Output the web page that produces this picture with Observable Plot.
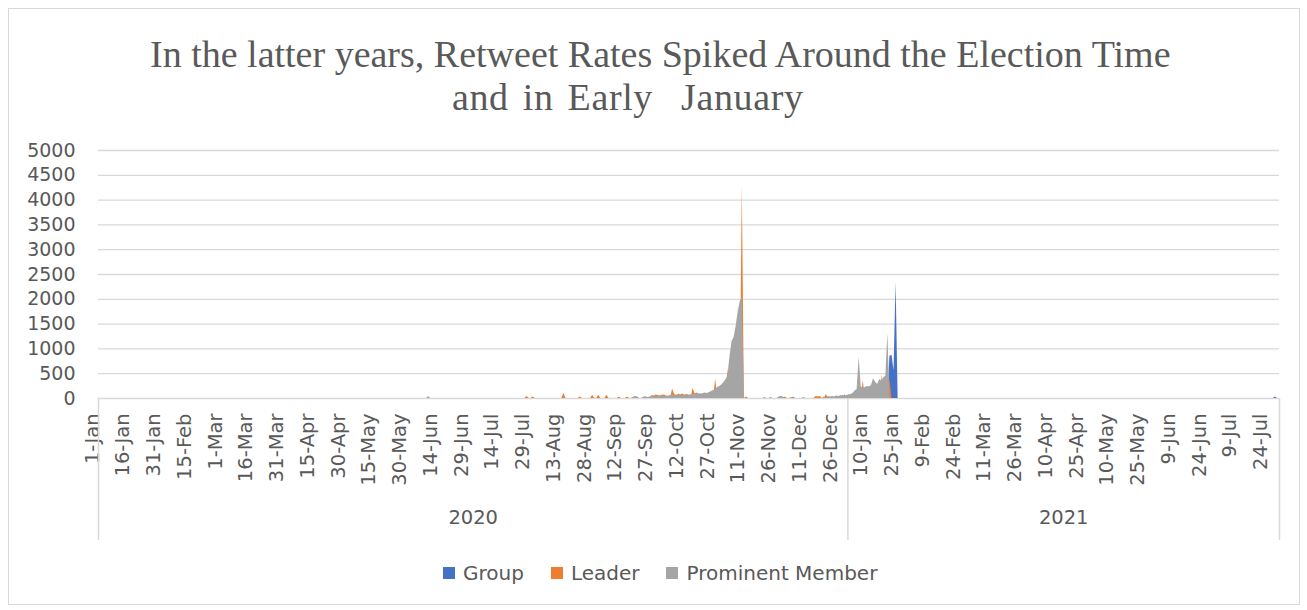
<!DOCTYPE html>
<html><head><meta charset="utf-8">
<script src="https://cdn.jsdelivr.net/npm/d3@7"></script>
<script src="https://cdn.jsdelivr.net/npm/@observablehq/plot@0.6"></script>
<style>
body{margin:0;background:#fff;}
#wrap{position:relative;width:1307px;height:610px;overflow:hidden;font-family:"DejaVu Sans";color:#595959;background:#fff}
#frame{position:absolute;left:8px;top:8px;width:1292px;height:597px;border:1px solid #d9d9d9;box-sizing:border-box}
.tl{position:absolute;white-space:pre;font-family:"Liberation Serif";font-size:38px;line-height:43px;color:#595959}
#t1{left:150px;top:33px;width:1015px;text-align:center}
#t2{left:452px;top:76px;word-spacing:4px;letter-spacing:0.6px}
#main{position:absolute;left:0;top:140px}
#years{position:absolute;left:0;top:398px}
#legend{position:absolute;top:561px;left:443px;display:flex;align-items:center;font-size:20px;line-height:24px;color:#595959;white-space:nowrap}
.item{display:flex;align-items:center;margin-right:27px}
.sw{width:12px;height:12px;margin-right:8px}
</style></head>
<body>
<div id="wrap">
  <div id="frame"></div>
  <div class="tl" id="t1">In the latter years, Retweet Rates Spiked Around the Election Time</div>
  <div class="tl" id="t2">and in Early  January</div>
  <div id="main"></div>
  <div id="years"></div>
  <div id="legend"></div>
</div>
<script>
// ---- data (days not listed are 0) ----
const seriesNames = ["Group", "Leader", "Prominent Member"];
const seriesColors = ["#4472C4", "#ED7D31", "#A5A5A5"];

const groupDates = ["2021-01-21","2021-01-22","2021-01-23","2021-01-24","2021-07-28"];
const groupValues = [850, 870, 560, 2350, 30];

const leaderDates = ["2020-07-28","2020-07-31","2020-08-15","2020-08-23","2020-08-29","2020-09-01","2020-09-05","2020-09-11","2020-09-15",
  "2020-09-27","2020-09-28","2020-09-29","2020-09-30","2020-10-01","2020-10-02","2020-10-03","2020-10-04","2020-10-07","2020-10-08",
  "2020-10-09","2020-10-10","2020-10-11","2020-10-12","2020-10-13","2020-10-14","2020-10-15","2020-10-17","2020-10-18","2020-10-19",
  "2020-10-20","2020-10-28","2020-11-03","2020-11-10","2020-11-12","2020-11-29","2020-12-01","2020-12-05","2020-12-16","2020-12-17",
  "2020-12-18","2020-12-21","2020-12-26","2020-12-28","2020-12-30","2021-01-01","2021-01-03","2021-01-08","2021-01-17","2021-01-21"];
const leaderValues = [40,30,100,30,65,65,65,30,30,
  60,50,70,60,50,65,70,50,190,80,
  60,85,70,90,60,80,70,200,90,110,
  80,400,600,4300,30,40,30,30,40,30,
  40,80,40,60,80,80,100,360,470,400];

const memberDates = ["2020-06-10","2020-09-18","2020-09-19","2020-09-20","2020-09-23","2020-09-24","2020-09-25","2020-09-26","2020-09-27",
  "2020-09-28","2020-09-29","2020-09-30","2020-10-01","2020-10-02","2020-10-03","2020-10-04","2020-10-05","2020-10-06","2020-10-07",
  "2020-10-08","2020-10-09","2020-10-10","2020-10-11","2020-10-12","2020-10-13","2020-10-14","2020-10-15","2020-10-16","2020-10-17",
  "2020-10-18","2020-10-19","2020-10-20","2020-10-21","2020-10-22","2020-10-23","2020-10-24","2020-10-25","2020-10-26","2020-10-27",
  "2020-10-28","2020-10-29","2020-10-30","2020-10-31","2020-11-01","2020-11-02","2020-11-03","2020-11-04","2020-11-05","2020-11-06",
  "2020-11-07","2020-11-08","2020-11-09","2020-11-10","2020-11-21","2020-11-24","2020-11-28","2020-11-29","2020-11-30","2020-12-04",
  "2020-12-10","2020-12-20","2020-12-22","2020-12-23","2020-12-24","2020-12-25","2020-12-26","2020-12-27","2020-12-28","2020-12-29",
  "2020-12-30","2020-12-31","2021-01-01","2021-01-02","2021-01-03","2021-01-04","2021-01-05","2021-01-06","2021-01-07","2021-01-08",
  "2021-01-09","2021-01-10","2021-01-11","2021-01-12","2021-01-13","2021-01-14","2021-01-15","2021-01-16","2021-01-17","2021-01-18",
  "2021-01-19","2021-01-20"];
const memberValues = [40,30,40,30,30,35,20,30,40,
  35,45,40,35,50,40,45,50,60,70,
  55,50,60,55,60,70,65,60,75,80,
  90,85,95,90,100,110,100,120,140,160,
  190,220,240,270,320,380,450,850,1150,1230,
  1450,1750,1950,2050,20,20,30,40,30,20,
  20,30,40,30,40,30,50,40,50,60,
  50,60,70,80,100,150,180,830,230,200,
  220,240,230,260,400,330,280,380,350,420,
  450,1310];

const yTicks = [0,500,1000,1500,2000,2500,3000,3500,4000,4500,5000];
const tickLabels = ["1-Jan","16-Jan","31-Jan","15-Feb","1-Mar","16-Mar","31-Mar","15-Apr","30-Apr","15-May","30-May","14-Jun","29-Jun",
  "14-Jul","29-Jul","13-Aug","28-Aug","12-Sep","27-Sep","12-Oct","27-Oct","11-Nov","26-Nov","11-Dec","26-Dec",
  "10-Jan","25-Jan","9-Feb","24-Feb","11-Mar","26-Mar","10-Apr","25-Apr","10-May","25-May","9-Jun","24-Jun","9-Jul","24-Jul"];
const yearLabels = ["2020", "2021"];

// ---- build daily tables ----
const start = new Date(Date.UTC(2020, 0, 1));
const end = new Date(Date.UTC(2021, 6, 30));
const days = d3.utcDay.range(start, d3.utcDay.offset(end, 1));
const fmt = d3.utcFormat("%Y-%m-%d");
function daily(dates, values) {
  const m = new Map(dates.map((d, i) => [d, values[i]]));
  return days.map(d => ({date: d, value: m.get(fmt(d)) ?? 0}));
}
const group = daily(groupDates, groupValues);
const leader = daily(leaderDates, leaderValues);
const member = daily(memberDates, memberValues);
const xTicks = tickLabels.map((label, k) => ({date: d3.utcDay.offset(start, 15 * k), label}));

const boundaries = [start, new Date(Date.UTC(2020, 11, 31, 12)), end];
const years = yearLabels.map((label, i) => ({label, date: new Date((+boundaries[i] + +boundaries[i + 1]) / 2)}));

const xOpts = {type: "utc", domain: [start, end], axis: null};
const font = {fontFamily: "DejaVu Sans", background: "transparent", color: "#595959", overflow: "visible"};

const chart = Plot.plot({
  width: 1307, height: 350,
  marginLeft: 98, marginRight: 28, marginTop: 10, marginBottom: 92,
  style: font,
  x: xOpts,
  y: {domain: [0, 5000], axis: null},
  marks: [
    Plot.gridY(yTicks, {stroke: "#d9d9d9", strokeOpacity: 1, strokeWidth: 1.3}),
    Plot.areaY(group, {x: "date", y: "value", fill: seriesColors[0]}),
    Plot.areaY(leader, {x: "date", y: "value", fill: seriesColors[1]}),
    Plot.areaY(member, {x: "date", y: "value", fill: seriesColors[2]}),
    Plot.axisY(yTicks, {tickSize: 0, tickPadding: 23, fontSize: 19, label: null, tickFormat: d => String(d)}),
    Plot.text(xTicks, {x: "date", text: "label", frameAnchor: "bottom", rotate: -90, textAnchor: "end", dy: 15, fontSize: 19.5, fill: "#595959"})
  ]
});
document.getElementById("main").appendChild(chart);

const yearChart = Plot.plot({
  width: 1307, height: 142,
  marginLeft: 98, marginRight: 28, marginTop: 0, marginBottom: 0,
  style: font,
  x: xOpts,
  marks: [
    Plot.ruleX(boundaries, {stroke: "#d9d9d9", strokeWidth: 1.5}),
    Plot.text(years, {x: "date", text: "label", frameAnchor: "bottom", dy: -17, fontSize: 19.5, fill: "#595959"})
  ]
});
document.getElementById("years").appendChild(yearChart);

const legend = d3.select("#legend");
seriesNames.forEach((name, i) => {
  const it = legend.append("div").attr("class", "item");
  it.append("div").attr("class", "sw").style("background", seriesColors[i]);
  it.append("span").text(name);
});
</script>
</body></html>
